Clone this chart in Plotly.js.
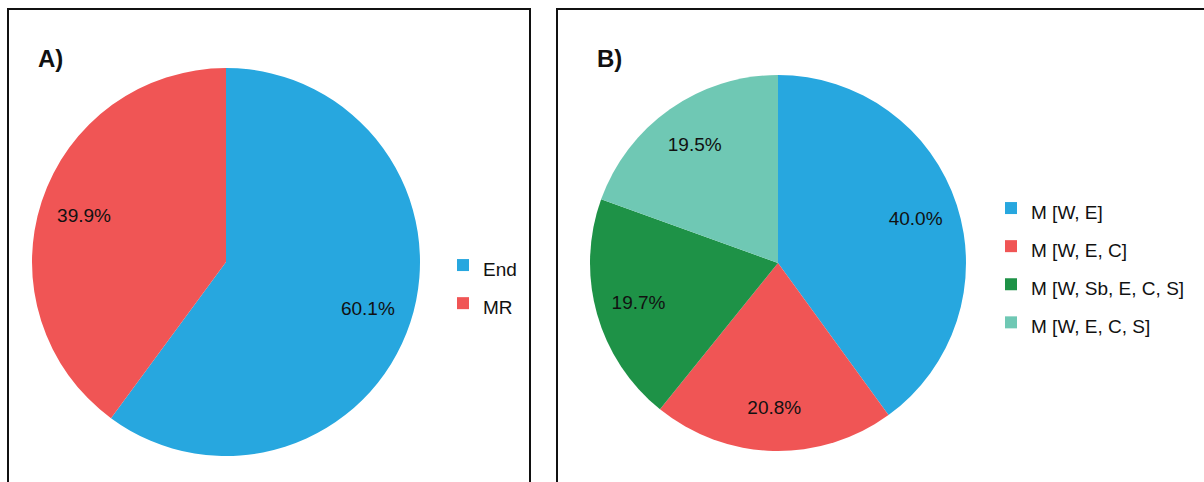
<!DOCTYPE html>
<html>
<head>
<meta charset="utf-8">
<script src="https://cdn.plot.ly/plotly-3.0.1.min.js"></script>
<style>html,body{margin:0;padding:0;background:#fff;}#chart{width:1204px;height:482px;}</style>
</head>
<body>
<div id="chart"></div>
<script>
const labelsA = ['End', 'MR'];
const valuesA = [60.1, 39.9];
const colorsA = ['#27A7DF', '#F05555'];

const labelsB = ['M [W, E]', 'M [W, E, C]', 'M [W, Sb, E, C, S]', 'M [W, E, C, S]'];
const valuesB = [40.0, 20.8, 19.7, 19.5];
const colorsB = ['#27A7DF', '#F05555', '#1E9247', '#6FC8B4'];

const panelTitles = ['A)', 'B)'];

const W = 1204, H = 482;
const px = v => v / W;
const py = v => 1 - v / H;
const FONT = 'Liberation Sans, Arial, sans-serif';

function legendLabel(s) {
  return '<span style="font-size:19px">' + s + '</span>';
}

function pieTrace(labels, values, colors, domain, legendId) {
  return {
    type: 'pie',
    sort: false,
    direction: 'clockwise',
    rotation: 0,
    labels: labels.map(legendLabel),
    values: values,
    marker: {colors: colors, line: {width: 0}},
    textinfo: 'none',
    hoverinfo: 'label+percent',
    domain: domain,
    legend: legendId
  };
}

// transparent ring on top, used only to place the percentage labels in the outer part of each slice
function labelRing(labels, values, domain) {
  return {
    type: 'pie',
    sort: false,
    direction: 'clockwise',
    rotation: 0,
    hole: 0.54,
    labels: labels,
    values: values,
    marker: {colors: labels.map(() => 'rgba(0,0,0,0)'), line: {width: 0}},
    texttemplate: '%{value:.1f}%',
    textposition: 'inside',
    insidetextorientation: 'horizontal',
    textfont: {family: FONT, size: 19, color: '#111'},
    showlegend: false,
    hoverinfo: 'skip',
    domain: domain
  };
}

const domA = {x: [px(32), px(420)], y: [py(456), py(68)]};
const domB = {x: [px(590), px(966)], y: [py(451), py(75)]};

const traces = [
  pieTrace(labelsA, valuesA, colorsA, domA, 'legend'),
  pieTrace(labelsB, valuesB, colorsB, domB, 'legend2'),
  labelRing(labelsA, valuesA, domA),
  labelRing(labelsB, valuesB, domB)
];

const legendFont = {family: FONT, size: 27, color: '#111'};

const layout = {
  width: W, height: H,
  margin: {l: 0, r: 0, t: 0, b: 0},
  paper_bgcolor: '#fff',
  showlegend: true,
  legend: {x: px(443), y: py(241), xanchor: 'left', yanchor: 'top', font: legendFont, bgcolor: 'rgba(0,0,0,0)'},
  legend2: {x: px(991), y: py(184), xanchor: 'left', yanchor: 'top', font: legendFont, bgcolor: 'rgba(0,0,0,0)'},
  shapes: [
    {type: 'rect', xref: 'paper', yref: 'paper', x0: px(8), x1: px(530), y0: -0.05, y1: py(9), line: {color: '#111', width: 2}},
    {type: 'rect', xref: 'paper', yref: 'paper', x0: px(557), x1: 1.05, y0: -0.05, y1: py(9), line: {color: '#111', width: 2}}
  ],
  annotations: [
    {text: '<b>' + panelTitles[0] + '</b>', xref: 'paper', yref: 'paper', x: px(36), y: py(58), xanchor: 'left', yanchor: 'middle', showarrow: false, font: {family: FONT, size: 24, color: '#111'}},
    {text: '<b>' + panelTitles[1] + '</b>', xref: 'paper', yref: 'paper', x: px(595), y: py(58), xanchor: 'left', yanchor: 'middle', showarrow: false, font: {family: FONT, size: 24, color: '#111'}}
  ]
};

Plotly.newPlot('chart', traces, layout, {displayModeBar: false, staticPlot: true});
</script>
</body>
</html>
